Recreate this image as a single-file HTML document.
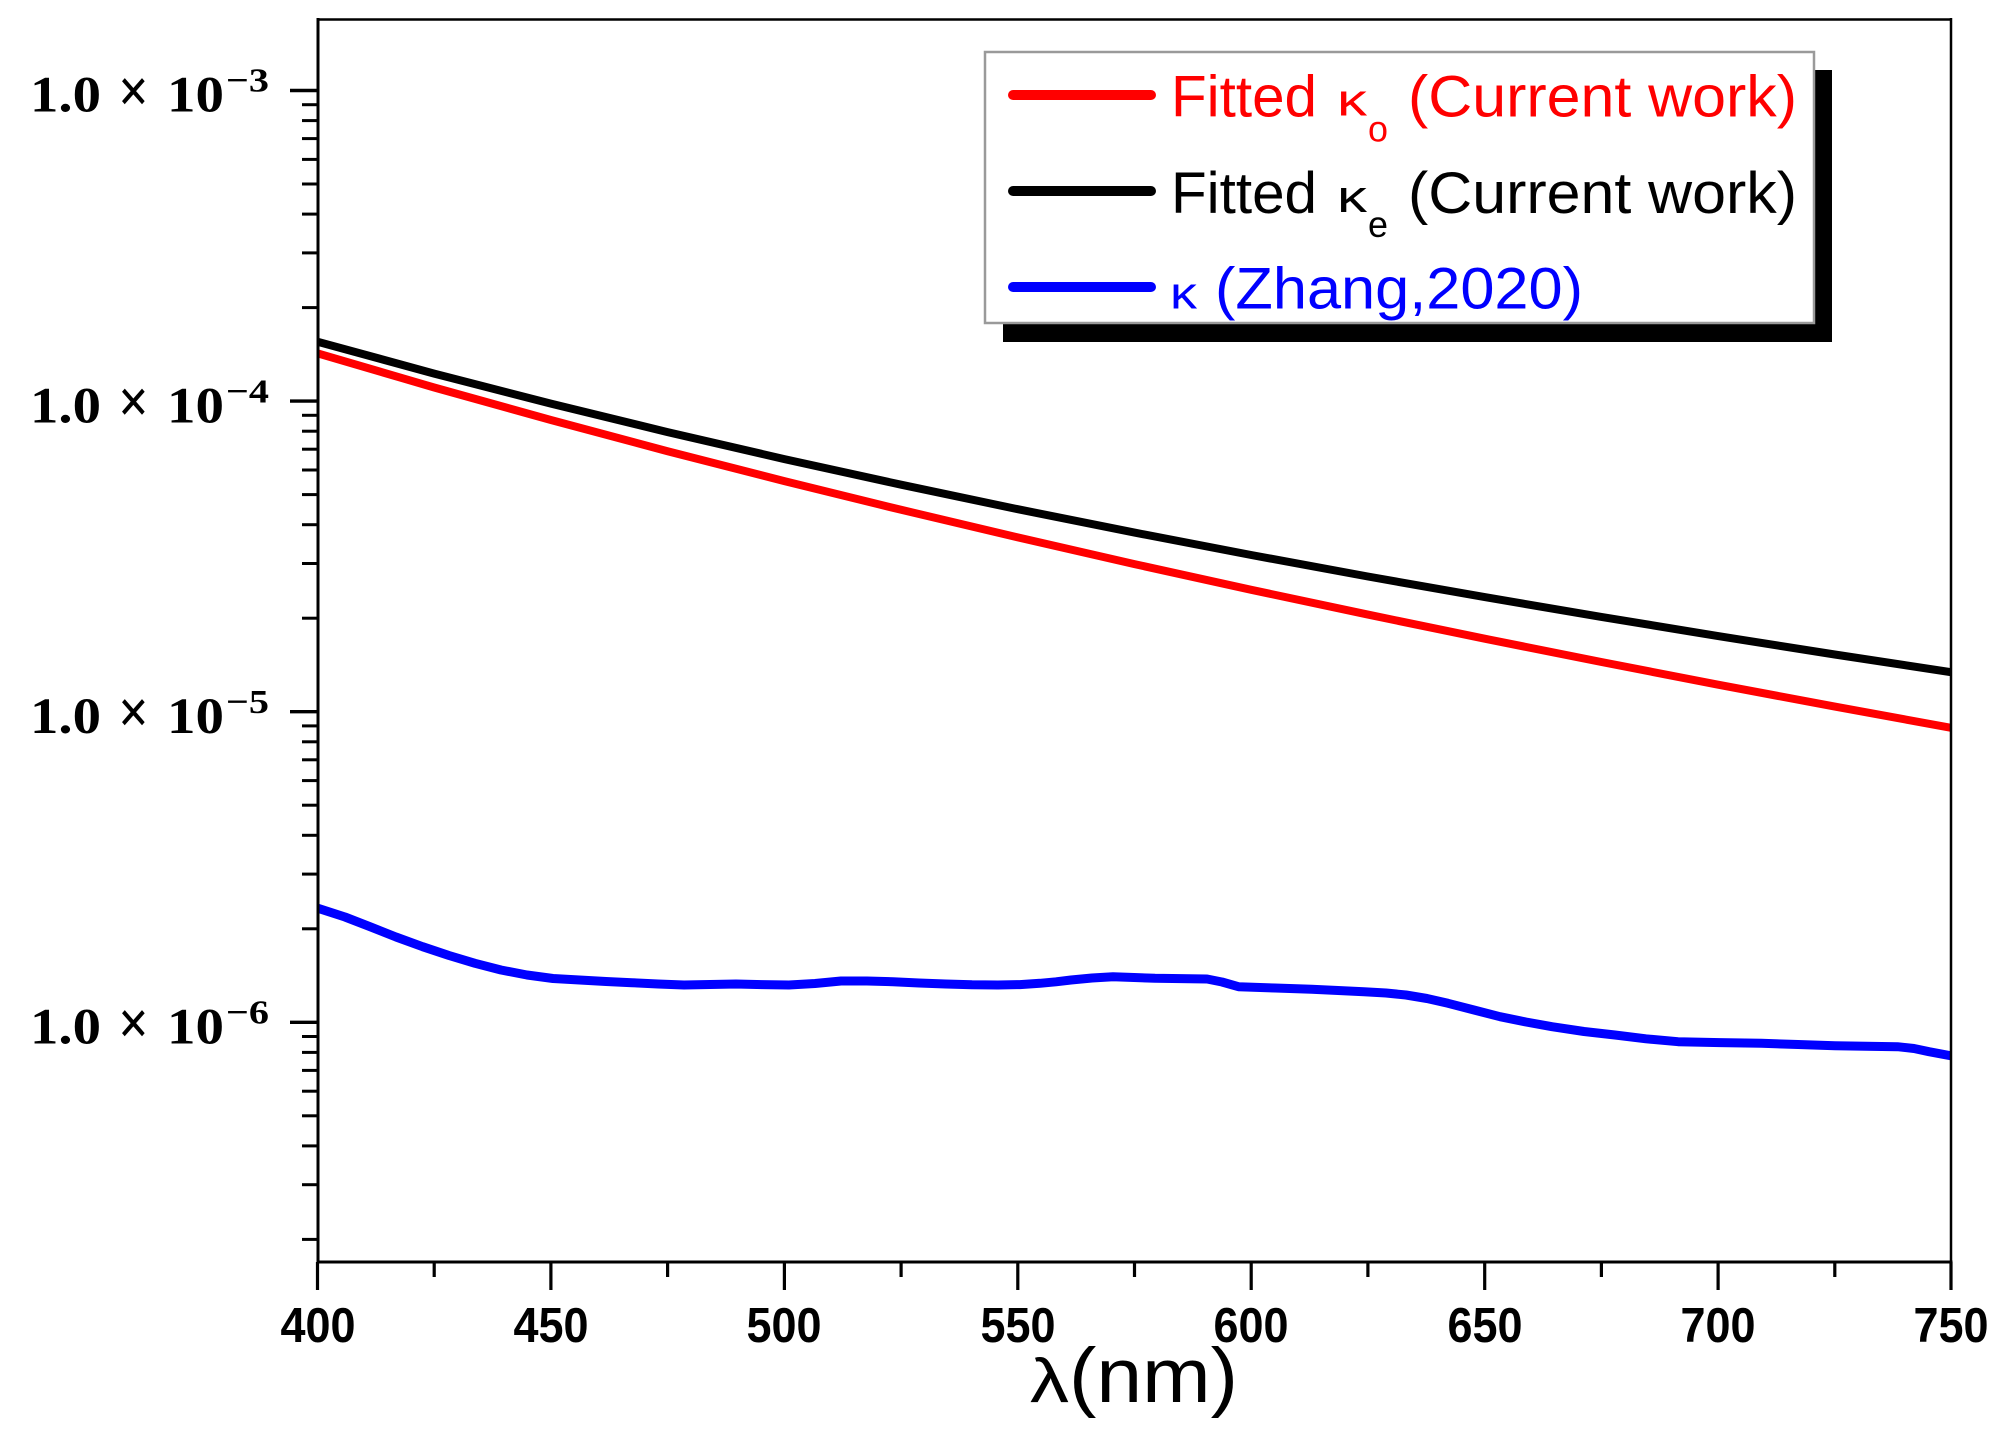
<!DOCTYPE html>
<html>
<head>
<meta charset="utf-8">
<style>
  html,body{margin:0;padding:0;background:#fff;}
  svg{display:block;}
</style>
</head>
<body>
<svg width="2004" height="1438" viewBox="0 0 2004 1438" xmlns="http://www.w3.org/2000/svg">
  <rect x="0" y="0" width="2004" height="1438" fill="#fff"/>
  <defs>
    <clipPath id="plot"><rect x="318" y="19" width="1633" height="1243"/></clipPath>
  </defs>

  <!-- Y ticks (outward, left) -->
  <g stroke="#000" stroke-width="3.4">
    <line x1="290" y1="90.5" x2="318" y2="90.5"/>
    <line x1="290" y1="401.1" x2="318" y2="401.1"/>
    <line x1="290" y1="711.7" x2="318" y2="711.7"/>
    <line x1="290" y1="1022.3" x2="318" y2="1022.3"/>
  </g>
  <g stroke="#000" stroke-width="3">
    <!-- 2..9 e-4 -->
    <line x1="302" y1="307.6" x2="318" y2="307.6"/>
    <line x1="302" y1="252.9" x2="318" y2="252.9"/>
    <line x1="302" y1="214.1" x2="318" y2="214.1"/>
    <line x1="302" y1="184.0" x2="318" y2="184.0"/>
    <line x1="302" y1="159.4" x2="318" y2="159.4"/>
    <line x1="302" y1="138.6" x2="318" y2="138.6"/>
    <line x1="302" y1="120.6" x2="318" y2="120.6"/>
    <line x1="302" y1="104.7" x2="318" y2="104.7"/>
    <!-- 2..9 e-5 -->
    <line x1="302" y1="618.2" x2="318" y2="618.2"/>
    <line x1="302" y1="563.5" x2="318" y2="563.5"/>
    <line x1="302" y1="524.7" x2="318" y2="524.7"/>
    <line x1="302" y1="494.6" x2="318" y2="494.6"/>
    <line x1="302" y1="470.0" x2="318" y2="470.0"/>
    <line x1="302" y1="449.2" x2="318" y2="449.2"/>
    <line x1="302" y1="431.2" x2="318" y2="431.2"/>
    <line x1="302" y1="415.3" x2="318" y2="415.3"/>
    <!-- 2..9 e-6 -->
    <line x1="302" y1="928.8" x2="318" y2="928.8"/>
    <line x1="302" y1="874.1" x2="318" y2="874.1"/>
    <line x1="302" y1="835.3" x2="318" y2="835.3"/>
    <line x1="302" y1="805.2" x2="318" y2="805.2"/>
    <line x1="302" y1="780.6" x2="318" y2="780.6"/>
    <line x1="302" y1="759.8" x2="318" y2="759.8"/>
    <line x1="302" y1="741.8" x2="318" y2="741.8"/>
    <line x1="302" y1="725.9" x2="318" y2="725.9"/>
    <!-- 2..9 e-7 -->
    <line x1="302" y1="1239.4" x2="318" y2="1239.4"/>
    <line x1="302" y1="1184.7" x2="318" y2="1184.7"/>
    <line x1="302" y1="1145.9" x2="318" y2="1145.9"/>
    <line x1="302" y1="1115.8" x2="318" y2="1115.8"/>
    <line x1="302" y1="1091.2" x2="318" y2="1091.2"/>
    <line x1="302" y1="1070.4" x2="318" y2="1070.4"/>
    <line x1="302" y1="1052.4" x2="318" y2="1052.4"/>
    <line x1="302" y1="1036.5" x2="318" y2="1036.5"/>
  </g>

  <!-- X ticks (outward, down) -->
  <g stroke="#000" stroke-width="3.2">
    <line x1="317.5" y1="1262" x2="317.5" y2="1290"/>
    <line x1="550.9" y1="1262" x2="550.9" y2="1290"/>
    <line x1="784.4" y1="1262" x2="784.4" y2="1290"/>
    <line x1="1017.8" y1="1262" x2="1017.8" y2="1290"/>
    <line x1="1251.2" y1="1262" x2="1251.2" y2="1290"/>
    <line x1="1484.7" y1="1262" x2="1484.7" y2="1290"/>
    <line x1="1718.1" y1="1262" x2="1718.1" y2="1290"/>
    <line x1="1951" y1="1262" x2="1951" y2="1290"/>
    <line x1="434.2" y1="1262" x2="434.2" y2="1277"/>
    <line x1="667.6" y1="1262" x2="667.6" y2="1277"/>
    <line x1="901.1" y1="1262" x2="901.1" y2="1277"/>
    <line x1="1134.5" y1="1262" x2="1134.5" y2="1277"/>
    <line x1="1367.9" y1="1262" x2="1367.9" y2="1277"/>
    <line x1="1601.4" y1="1262" x2="1601.4" y2="1277"/>
    <line x1="1834.8" y1="1262" x2="1834.8" y2="1277"/>
  </g>

  <!-- Data -->
  <g clip-path="url(#plot)" fill="none" stroke-linejoin="round" stroke-linecap="butt">
    <polyline stroke="#0000ff" stroke-width="9" points="318,908.3 345,917 370,926.7 396,937 422.6,946.7 449,955.5 475,963.3 501,970 527,975 553,978.5 579.5,980 606,981.5 632,982.7 658,984 684,985 710,984.5 736,984 762,984.6 789,985 815,983.5 841,981 867,981 893,981.7 919,983 945.6,984 972,984.8 998,985 1020,984.6 1040,983.3 1056,981.8 1071,980 1092,978 1113,976.7 1134,977.5 1155,978.3 1181,978.6 1207,979 1222,982 1238.5,986.7 1275,988 1311.7,989.3 1338,990.5 1364,991.7 1386,993 1406,995 1427,998.5 1448,1003.3 1474,1010 1500,1016.7 1526,1022 1552,1026.7 1584,1031.5 1615,1035 1646,1038.8 1678,1041.7 1720,1042.6 1761.5,1043.3 1798,1044.5 1835,1045.7 1866,1046.3 1897.5,1046.7 1914,1048.5 1929,1051.7 1952,1056"/>
    <polyline stroke="#ff0000" stroke-width="8" points="317.5,353.3 434.2,387.5 550.9,420.0 667.6,451.2 784.4,481.1 901.1,509.8 1017.8,537.4 1134.5,564.1 1251.2,589.8 1367.9,614.6 1484.7,638.7 1601.4,662.0 1718.1,684.7 1834.8,706.6 1952,728.0"/>
    <polyline stroke="#000000" stroke-width="8" points="317.5,341.7 434.2,373.6 550.9,403.65 667.6,432.1 784.4,459.1 901.1,484.7 1017.8,509.2 1134.5,532.6 1251.2,555.0 1367.9,576.5 1484.7,597.1 1601.4,616.9 1718.1,636.1 1834.8,654.5 1952,672.3"/>
  </g>

  <!-- Frame -->
  <g stroke="#000" fill="none">
    <line x1="317" y1="19.5" x2="1952" y2="19.5" stroke-width="2.5"/>
    <line x1="1951" y1="18" x2="1951" y2="1263" stroke-width="2.5"/>
    <line x1="318" y1="18" x2="318" y2="1263" stroke-width="3"/>
    <line x1="316.5" y1="1262" x2="1952.5" y2="1262" stroke-width="3"/>
  </g>

  <!-- Legend -->
  <rect x="1003" y="70" width="829" height="272" fill="#000"/>
  <rect x="985" y="52" width="829" height="271" fill="#fff" stroke="#9a9a9a" stroke-width="2.5"/>
  <g stroke-width="10" stroke-linecap="round">
    <line x1="1013" y1="95" x2="1151" y2="95" stroke="#ff0000"/>
    <line x1="1013" y1="191" x2="1151" y2="191" stroke="#000000"/>
    <line x1="1013" y1="287" x2="1151" y2="287" stroke="#0000ff"/>
  </g>
  <g font-family="'Liberation Sans', Arial, sans-serif">
    <g fill="#ff0000">
      <text x="1171" y="116.5" font-size="58" textLength="146" lengthAdjust="spacingAndGlyphs">Fitted</text>
      <text x="1337" y="115.5" font-size="45" textLength="30" lengthAdjust="spacingAndGlyphs">κ</text>
      <text x="1368" y="141.5" font-size="37" textLength="20" lengthAdjust="spacingAndGlyphs">o</text>
      <text x="1408" y="116.5" font-size="58" textLength="389" lengthAdjust="spacingAndGlyphs">(Current work)</text>
    </g>
    <g fill="#000000">
      <text x="1171" y="213" font-size="58" textLength="146" lengthAdjust="spacingAndGlyphs">Fitted</text>
      <text x="1337" y="212" font-size="45" textLength="30" lengthAdjust="spacingAndGlyphs">κ</text>
      <text x="1368" y="237" font-size="37" textLength="20" lengthAdjust="spacingAndGlyphs">e</text>
      <text x="1408" y="213" font-size="58" textLength="389" lengthAdjust="spacingAndGlyphs">(Current work)</text>
    </g>
    <g fill="#0000ff">
      <text x="1170" y="308.5" font-size="45" textLength="27" lengthAdjust="spacingAndGlyphs">κ</text>
      <text x="1215" y="308.5" font-size="58" textLength="368" lengthAdjust="spacingAndGlyphs">(Zhang,2020)</text>
    </g>
  </g>

  <!-- Y tick labels -->
  <g font-family="'Liberation Serif', 'Times New Roman', serif" font-weight="bold" fill="#000">
    <!-- 1e-3 -->
    <text x="30" y="111.7" font-size="51" textLength="71" lengthAdjust="spacingAndGlyphs">1.0</text>
    <text x="118" y="112" font-size="62" textLength="31" lengthAdjust="spacingAndGlyphs">×</text>
    <text x="167" y="111.7" font-size="51" textLength="57" lengthAdjust="spacingAndGlyphs">10</text>
    <text x="226" y="91.7" font-size="34" textLength="43" lengthAdjust="spacingAndGlyphs">−3</text>
    <!-- 1e-4 -->
    <text x="30" y="422.3" font-size="51" textLength="71" lengthAdjust="spacingAndGlyphs">1.0</text>
    <text x="118" y="422.6" font-size="62" textLength="31" lengthAdjust="spacingAndGlyphs">×</text>
    <text x="167" y="422.3" font-size="51" textLength="57" lengthAdjust="spacingAndGlyphs">10</text>
    <text x="226" y="402.3" font-size="34" textLength="43" lengthAdjust="spacingAndGlyphs">−4</text>
    <!-- 1e-5 -->
    <text x="30" y="732.9" font-size="51" textLength="71" lengthAdjust="spacingAndGlyphs">1.0</text>
    <text x="118" y="733.2" font-size="62" textLength="31" lengthAdjust="spacingAndGlyphs">×</text>
    <text x="167" y="732.9" font-size="51" textLength="57" lengthAdjust="spacingAndGlyphs">10</text>
    <text x="226" y="712.9" font-size="34" textLength="43" lengthAdjust="spacingAndGlyphs">−5</text>
    <!-- 1e-6 -->
    <text x="30" y="1043.5" font-size="51" textLength="71" lengthAdjust="spacingAndGlyphs">1.0</text>
    <text x="118" y="1043.8" font-size="62" textLength="31" lengthAdjust="spacingAndGlyphs">×</text>
    <text x="167" y="1043.5" font-size="51" textLength="57" lengthAdjust="spacingAndGlyphs">10</text>
    <text x="226" y="1023.5" font-size="34" textLength="43" lengthAdjust="spacingAndGlyphs">−6</text>
  </g>

  <!-- X tick labels -->
  <g font-family="'Liberation Sans', Arial, sans-serif" font-weight="bold" font-size="49" fill="#000" text-anchor="middle">
    <text x="318" y="1342" textLength="75" lengthAdjust="spacingAndGlyphs">400</text>
    <text x="551" y="1342" textLength="75" lengthAdjust="spacingAndGlyphs">450</text>
    <text x="784" y="1342" textLength="75" lengthAdjust="spacingAndGlyphs">500</text>
    <text x="1018" y="1342" textLength="75" lengthAdjust="spacingAndGlyphs">550</text>
    <text x="1251" y="1342" textLength="75" lengthAdjust="spacingAndGlyphs">600</text>
    <text x="1485" y="1342" textLength="75" lengthAdjust="spacingAndGlyphs">650</text>
    <text x="1718" y="1342" textLength="75" lengthAdjust="spacingAndGlyphs">700</text>
    <text x="1951" y="1342" textLength="75" lengthAdjust="spacingAndGlyphs">750</text>
  </g>

  <!-- X axis title -->
  <g font-family="'Liberation Sans', Arial, sans-serif" fill="#000">
    <text x="1030" y="1402" font-size="62" textLength="39" lengthAdjust="spacingAndGlyphs">λ</text>
    <text x="1069" y="1402" font-size="77" textLength="169" lengthAdjust="spacingAndGlyphs">(nm)</text>
  </g>
</svg>
</body>
</html>
